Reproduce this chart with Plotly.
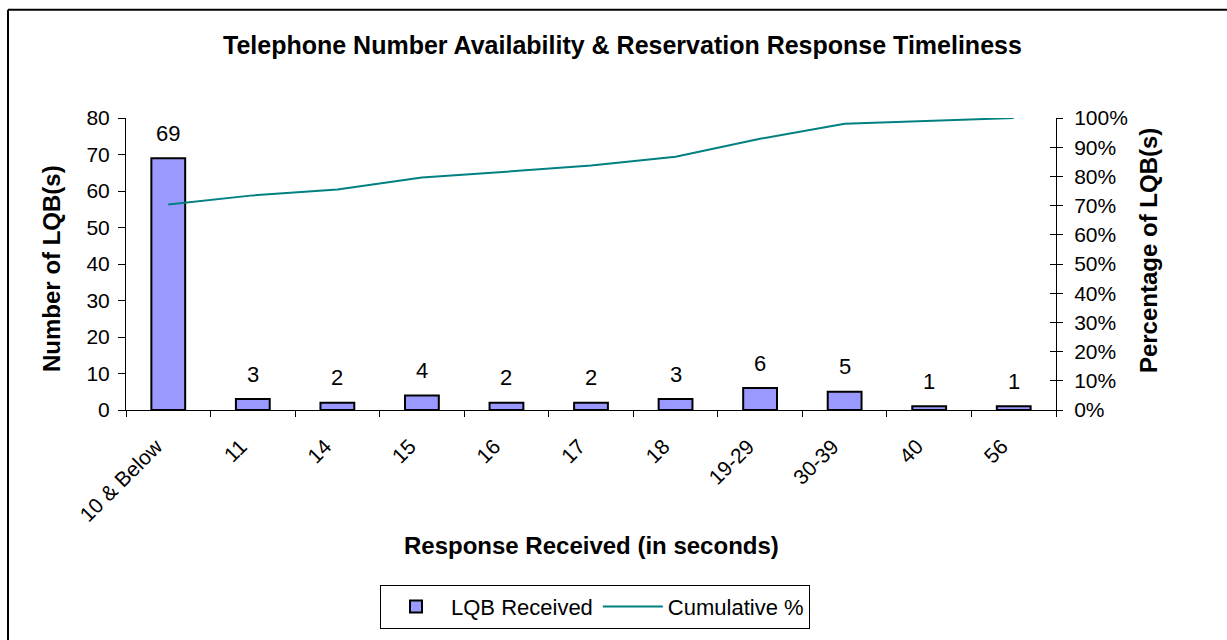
import plotly.graph_objects as go

categories = ["10 & Below", "11", "14", "15", "16", "17", "18", "19-29", "30-39", "40", "56"]
lqb_received = [69, 3, 2, 4, 2, 2, 3, 6, 5, 1, 1]
cumulative_pct = [70.4, 73.5, 75.5, 79.6, 81.6, 83.7, 86.7, 92.9, 98.0, 99.0, 100.0]
left_ticks = [0, 10, 20, 30, 40, 50, 60, 70, 80]
right_ticks = [0, 10, 20, 30, 40, 50, 60, 70, 80, 90, 100]
right_tick_text = ["0%", "10%", "20%", "30%", "40%", "50%", "60%", "70%", "80%", "90%", "100%"]

FONT = "Arial, 'Liberation Sans', sans-serif"
W, H = 1227, 640
L, R, T, B = 126, 1056, 118, 412
TICK_SIZE = 21
TEXT_SIZE = 22
BOLD_SIZE = 24

def px(x):
    return (x - L) / (R - L)

def py(y):
    return (B - y) / (B - T)

fig = go.Figure()
fig.add_trace(go.Bar(
    x=categories, y=lqb_received, name="LQB Received",
    marker=dict(color="#9999FF", line=dict(color="black", width=2)),
    width=0.4, yaxis="y",
))
fig.add_trace(go.Scatter(
    x=categories, y=cumulative_pct, name="Cumulative %", mode="lines",
    line=dict(color="#008080", width=2), yaxis="y2",
))
fig.add_trace(go.Scatter(x=[categories[0]], y=[None], yaxis="y3", showlegend=False,
                         hoverinfo="skip"))

annotations = []
for i, v in enumerate(lqb_received):
    annotations.append(dict(x=i, y=v, xref="x", yref="y", text=str(v), showarrow=False,
                            xanchor="center", yanchor="middle", yshift=25,
                            font=dict(size=TEXT_SIZE, color="black", family=FONT)))
annotations += [
    dict(x=px(52), y=py(270), xref="paper", yref="paper", text="<b>Number of LQB(s)</b>",
         xanchor="center", yanchor="middle",
         textangle=-90, showarrow=False, font=dict(size=BOLD_SIZE, family=FONT, color="black")),
    dict(x=px(1148), y=py(252), xref="paper", yref="paper", text="<b>Percentage of LQB(s)</b>",
         xanchor="center", yanchor="middle",
         textangle=-90, showarrow=False, font=dict(size=BOLD_SIZE, family=FONT, color="black")),
    dict(x=px(591), y=py(548), xref="paper", yref="paper", text="<b>Response Received (in seconds)</b>",
         xanchor="center", yanchor="middle",
         showarrow=False, font=dict(size=BOLD_SIZE, family=FONT, color="black")),
    dict(x=px(622), y=py(44), xref="paper", yref="paper",
         text="<b>Telephone Number Availability & Reservation Response Timeliness</b>",
         xanchor="center", yanchor="middle",
         showarrow=False, font=dict(size=25, family=FONT, color="black")),
]

shapes = [
    dict(type="line", xref="paper", yref="paper", x0=px(8), x1=px(8), y0=py(9), y1=py(660),
         line=dict(color="black", width=2)),
    dict(type="line", xref="paper", yref="paper", x0=px(8), x1=px(1240), y0=py(9), y1=py(9),
         line=dict(color="black", width=2)),
]

fig.update_layout(
    width=W, height=H,
    margin=dict(l=L, r=W - R, t=T, b=H - B, pad=0),
    paper_bgcolor="white", plot_bgcolor="white",
    font=dict(family=FONT, size=TICK_SIZE, color="black"),
    showlegend=True,
    legend=dict(orientation="h", x=px(595), y=py(610), xanchor="center", yanchor="middle",
                bordercolor="black", borderwidth=1, font=dict(size=TEXT_SIZE, family=FONT),
                itemwidth=60),
    xaxis=dict(type="category", tickangle=-45, showline=True, linecolor="black", linewidth=1,
               ticks="outside", ticklen=6, tickcolor="black", tickson="boundaries",
               ticklabelstandoff=15, ticklabelshift=-12,
               showgrid=False, tickfont=dict(size=TICK_SIZE), range=[-0.5, 10.5]),
    yaxis=dict(range=[0, 80], tickvals=left_ticks, showline=True, linecolor="black", linewidth=1,
               ticks="outside", ticklen=7, tickcolor="black", showgrid=False, zeroline=False,
               ticklabelstandoff=4, tickfont=dict(size=TICK_SIZE)),
    yaxis2=dict(range=[0, 100], tickvals=right_ticks, ticktext=right_tick_text, overlaying="y",
                side="right", showline=True, linecolor="black", linewidth=1, ticks="outside",
                ticklen=6, tickcolor="black", showgrid=False, zeroline=False,
                ticklabelstandoff=7, tickfont=dict(size=TICK_SIZE)),
    yaxis3=dict(range=[0, 100], tickvals=right_ticks, overlaying="y", side="right", anchor="x",
                showticklabels=False, ticks="inside", ticklen=6, tickcolor="black",
                showgrid=False, zeroline=False, showline=False),
    annotations=annotations,
    shapes=shapes,
)

fig.write_html("out.html", config={"displayModeBar": False},
               post_script="document.body.style.margin='0';")
